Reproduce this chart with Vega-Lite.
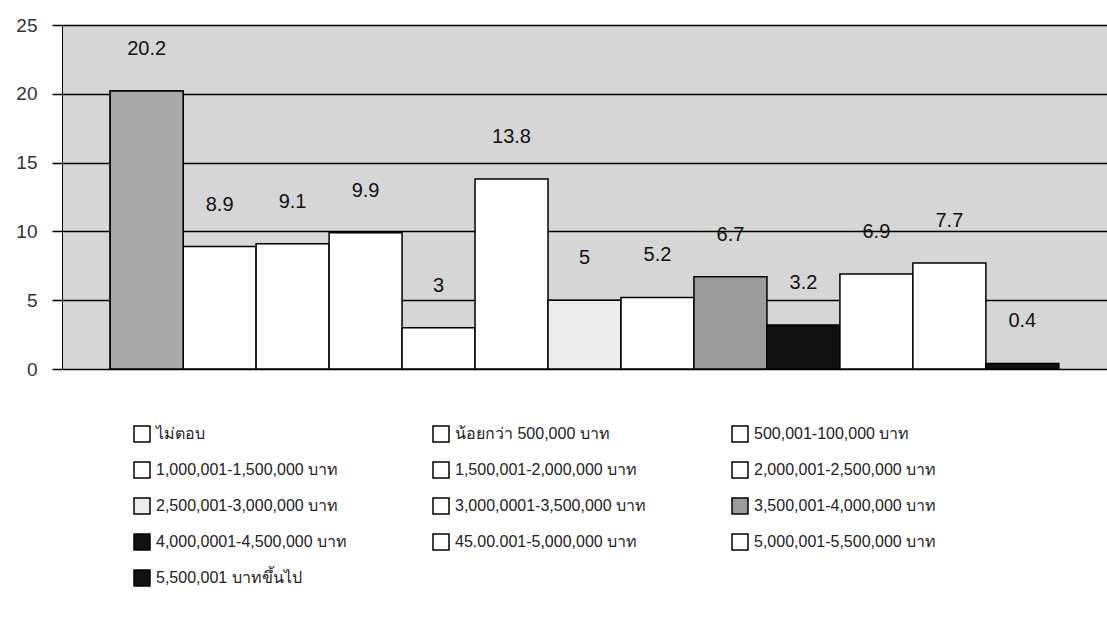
{
  "$schema": "https://vega.github.io/schema/vega-lite/v6.json",
  "width": 1045,
  "height": 344,
  "autosize": {"type": "none"},
  "padding": {"left": 62, "top": 25, "right": 0, "bottom": 263},
  "background": "#ffffff",
  "config": {
    "font": "Liberation Sans",
    "view": {"fill": "#d6d6d6", "stroke": "#000000", "strokeWidth": 1}
  },
  "data": {
    "values": [
      {"cat": "ไม่ตอบ", "value": 20.2},
      {"cat": "น้อยกว่า 500,000 บาท", "value": 8.9},
      {"cat": "500,001-100,000  บาท", "value": 9.1},
      {"cat": "1,000,001-1,500,000 บาท", "value": 9.9},
      {"cat": "1,500,001-2,000,000 บาท", "value": 3},
      {"cat": "2,000,001-2,500,000 บาท", "value": 13.8},
      {"cat": "2,500,001-3,000,000 บาท", "value": 5},
      {"cat": "3,000,0001-3,500,000 บาท", "value": 5.2},
      {"cat": "3,500,001-4,000,000 บาท", "value": 6.7},
      {"cat": "4,000,0001-4,500,000 บาท", "value": 3.2},
      {"cat": "45.00.001-5,000,000 บาท", "value": 6.9},
      {"cat": "5,000,001-5,500,000 บาท", "value": 7.7},
      {"cat": "5,500,001 บาทขึ้นไป", "value": 0.4}
    ]
  },
  "encoding": {
    "x": {"field": "cat", "type": "nominal", "sort": null, "axis": null,
          "scale": {"paddingInner": 0, "paddingOuter": 0.66}},
    "y": {"field": "value", "type": "quantitative",
          "scale": {"domain": [0, 25], "nice": false},
          "axis": {"title": null, "values": [0, 5, 10, 15, 20, 25], "grid": true,
                   "gridColor": "#000000", "gridWidth": 1.5, "gridOpacity": 1,
                   "domain": false, "ticks": true, "tickColor": "#000000", "tickSize": 10,
                   "tickWidth": 1.5, "labelFontSize": 19, "labelColor": "#333333",
                   "labelPadding": 15}}
  },
  "layer": [
    {
      "mark": {"type": "bar", "stroke": "#000000", "strokeWidth": 1.5},
      "encoding": {
        "fill": {"field": "cat", "type": "nominal", "sort": null,
          "scale": {
            "domain": ["ไม่ตอบ", "น้อยกว่า 500,000 บาท", "500,001-100,000  บาท", "1,000,001-1,500,000 บาท", "1,500,001-2,000,000 บาท", "2,000,001-2,500,000 บาท", "2,500,001-3,000,000 บาท", "3,000,0001-3,500,000 บาท", "3,500,001-4,000,000 บาท", "4,000,0001-4,500,000 บาท", "45.00.001-5,000,000 บาท", "5,000,001-5,500,000 บาท", "5,500,001 บาทขึ้นไป"],
            "range": ["#ffffff", "#ffffff", "#ffffff", "#ffffff", "#ffffff", "#ffffff", "#ececec", "#ffffff", "#9c9c9c", "#111111", "#ffffff", "#ffffff", "#111111"]
          },
          "legend": {"orient": "none", "legendX": 71, "legendY": 400, "columns": 3,
                     "direction": "horizontal",
                     "title": null, "symbolType": "square", "symbolSize": 256,
                     "symbolStrokeColor": "#000000", "symbolStrokeWidth": 1.5,
                     "labelFontSize": 16, "labelColor": "#222222", "labelLimit": 400,
                     "labelOffset": 5, "rowPadding": 14, "columnPadding": 82,
                     "gridAlign": "all"}}
      }
    },
    {
      "transform": [{"filter": "datum.cat === 'ไม่ตอบ'"}],
      "mark": {"type": "bar", "fill": "#a9a9a9", "stroke": "#000000", "strokeWidth": 1.5}
    },
    {
      "mark": {"type": "text", "dy": -42, "fontSize": 20, "color": "#111111"},
      "encoding": {"text": {"field": "value", "type": "quantitative"}}
    }
  ]
}
